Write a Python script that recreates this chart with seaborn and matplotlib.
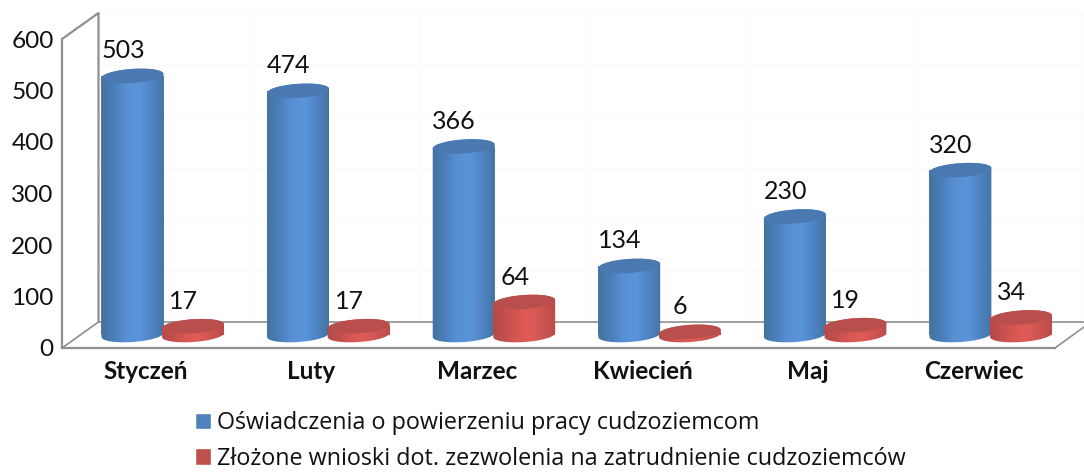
import numpy as np
import pandas as pd
import matplotlib
matplotlib.use("Agg")
import matplotlib.pyplot as plt
from matplotlib.path import Path
from matplotlib.patches import PathPatch
from matplotlib.colors import LinearSegmentedColormap
import seaborn as sns

months = ["Styczeń", "Luty", "Marzec", "Kwiecień", "Maj", "Czerwiec"]
series_a = "Oświadczenia o powierzeniu pracy cudzoziemcom"
series_b = "Złożone wnioski dot. zezwolenia na zatrudnienie cudzoziemców"
values_a = [503, 474, 366, 134, 230, 320]
values_b = [17, 17, 64, 6, 19, 34]
y_ticks = [0, 100, 200, 300, 400, 500, 600]

sns.set_theme(style="white")
plt.rcParams["font.family"] = ["Lato", "DejaVu Sans"]
TXT = "#111111"
W, H = 1084, 472
fig = plt.figure(figsize=(W / 100, H / 100), dpi=100, facecolor="white")

def px_axes(x0, x1, ytop, ybot, **kw):
    return fig.add_axes([x0 / W, 1 - ybot / H, (x1 - x0) / W, (ybot - ytop) / H], **kw)

PX_PER_UNIT = 0.515
# --- wall axes: front edge of the 3D box, x in pixels, y in chart units
GREY = "#8f8f8f"
ax_w = px_axes(62, 1055, 348 - 600 * PX_PER_UNIT, 348)
ax_w.set_xlim(62, 1055)
ax_w.set_ylim(0, 600)
ax_w.set_facecolor("none")
for s in ("top", "right"):
    ax_w.spines[s].set_visible(False)
for s in ("left", "bottom"):
    ax_w.spines[s].set_color(GREY)
    ax_w.spines[s].set_linewidth(1.6)
ax_w.set_xticks([])
ax_w.set_yticks(y_ticks)
ax_w.tick_params(axis="y", length=0, pad=6.0, labelsize=17.6, colors=TXT)
DX, DY = 36.5, 26 / PX_PER_UNIT
line = dict(color=GREY, clip_on=False, solid_capstyle="round")
ax_w.plot([62, 62 + DX, 62 + DX], [600, 600 + DY, DY], lw=1.6, **line)
ax_w.plot([62, 62 + DX], [0, DY], lw=1.2, **line)
ax_w.plot([62 + DX, 1084], [DY, DY], lw=1.2, **line)
ax_w.plot([1055, 1084], [0, 21 / PX_PER_UNIT], lw=1.2, **line)
for t in y_ticks[1:]:
    ax_w.plot([62 + DX, 1084], [t + DY, t + DY], color="#fafafa", lw=1, clip_on=False, zorder=0)
for k in range(1, 7):
    xg = 62 + DX + (k * 165.6 - 10)
    if xg < 1084:
        ax_w.plot([xg, xg], [DY, 600 + DY], color="#fbfbfb", lw=1, clip_on=False, zorder=0)

# --- bars axes: the floor plane through the cylinder base centres
CAT = 165.6
ax = px_axes(163.5 - CAT / 2, 991.5 + CAT / 2, 335 - 600 * PX_PER_UNIT, 335)
ax.set_facecolor("none")
df = pd.DataFrame({
    "month": months * 2,
    "value": values_a + values_b,
    "series": [series_a] * 6 + [series_b] * 6,
})
sns.barplot(data=df, x="month", y="value", hue="series", order=months,
            hue_order=[series_a, series_b], palette=["#4f81bd", "#c0504d"],
            width=0.75, gap=0, dodge=True, saturation=1, ax=ax, legend=True)
ax.set_xlim(-0.5, 5.5)
ax.set_ylim(0, 600)
ax.set_xlabel("")
ax.set_ylabel("")
ax.set_yticks([])
ax.set_xticks(np.arange(6) - 0.108, labels=months, fontweight="bold", fontsize=17.5, color=TXT)
ax.tick_params(axis="x", length=0, pad=18)
for s in ax.spines.values():
    s.set_visible(False)

A, B, TILT = 31.0, 7.0, np.radians(4)
X_PX = CAT
def ell(xc, yc, t):
    dx = A * np.cos(t)
    dy = B * np.sin(t)
    rx = dx * np.cos(TILT) - dy * np.sin(TILT)
    ry = dx * np.sin(TILT) + dy * np.cos(TILT)
    return xc + rx / X_PX, yc + ry / PX_PER_UNIT

styles = [
    (["#44729f", "#4b7fba", "#5890d4", "#5a94da", "#4f84c4", "#44739f"], "#4a79b1"),
    (["#b44a48", "#c4504d", "#d85854", "#e05b56", "#cc5450", "#b84c49"], "#b94f4c"),
]
for z, (cont, (grad, top)) in enumerate(zip(ax.containers, styles)):
    cmap = LinearSegmentedColormap.from_list("g", grad)
    for bar in cont:
        bar.set_x(bar.get_x() - z * 1.5 / CAT)      # second series overlaps the first a little
        xc = bar.get_x() + bar.get_width() / 2
        h = bar.get_height()
        bar.set_zorder(3 + z)
        bar.set_edgecolor("none")
        t_low = np.linspace(0, -np.pi, 60)          # lower half, right to left
        t_up = np.linspace(np.pi, 0, 60)            # upper half of top ellipse
        xb, yb = ell(xc, 0, t_low)
        xt, yt = ell(xc, h, t_up)
        verts = np.r_[np.c_[xb, yb], np.c_[xt, yt], [[xb[0], yb[0]]]]
        body = PathPatch(Path(verts, closed=True), transform=ax.transData, fc="none", ec="none")
        ax.add_patch(body)
        body.set_clip_on(False)
        im = ax.imshow(np.linspace(0, 1, 64)[None, :], cmap=cmap, aspect="auto",
                       extent=(xc - A / X_PX * 1.02, xc + A / X_PX * 1.02, -40, h + 40),
                       zorder=3.1 + z, interpolation="bilinear")
        im.set_clip_box(fig.bbox)
        im.set_clip_path(body)
        t = np.linspace(0, 2 * np.pi, 120)
        xe, ye = ell(xc, h, t)
        ax.fill(xe, ye, color=top, lw=0, zorder=3.2 + z, clip_on=False)
        ax.annotate(f"{int(h)}", (xc, h), xytext=(-9.5 * 0.72, 25 * 0.72),
                    textcoords="offset points", ha="center", va="center",
                    fontsize=18, color=TXT, zorder=6, annotation_clip=False)
ax.set_xlim(-0.5, 5.5)
ax.set_ylim(0, 600)
ax.set_aspect("auto")

sns.move_legend(ax, "upper left", bbox_to_anchor=(195 / W, 1 - 411 / H),
                bbox_transform=fig.transFigure, frameon=False, title=None,
                prop={"family": "Open Sans", "size": 16.8},
                handlelength=0.7, handleheight=0.7,
                handletextpad=0.26, labelspacing=0.5, borderpad=0, borderaxespad=0)
for txt in ax.get_legend().get_texts():
    txt.set_color(TXT)

fig.savefig("out.png", dpi=100, facecolor="white")
